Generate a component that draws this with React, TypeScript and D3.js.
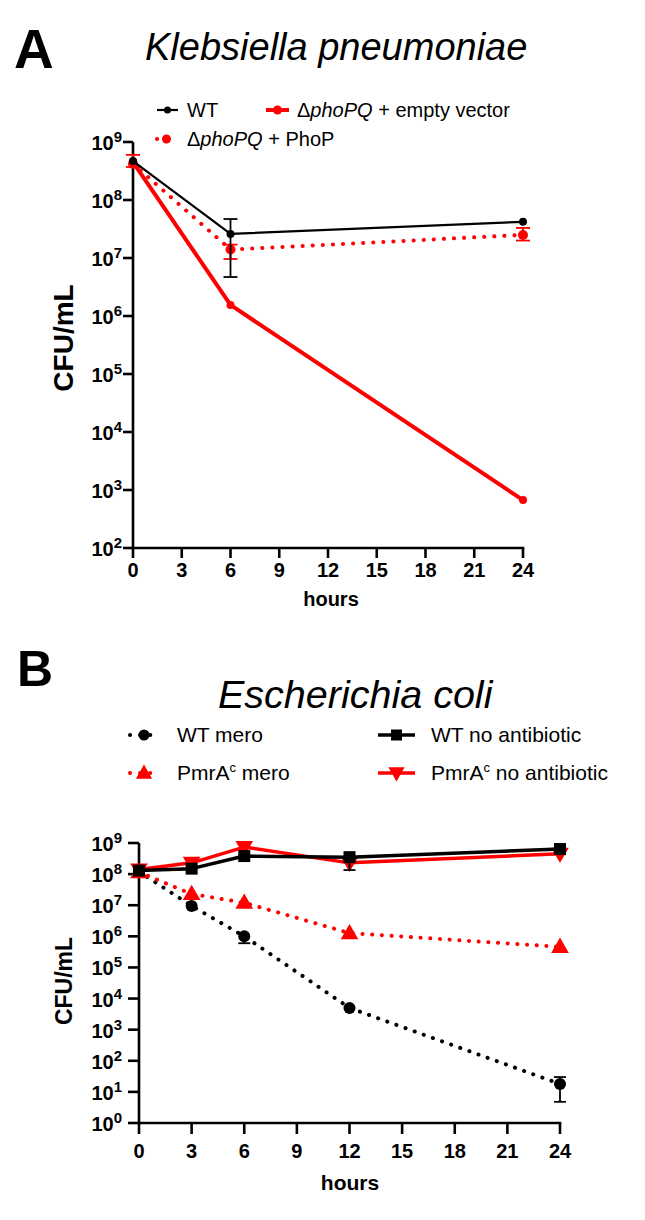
import React from "react";
import * as d3 from "d3";

const FONT = "'Liberation Sans', Arial, Helvetica, sans-serif";

// ---------- Panel A data (Klebsiella pneumoniae) ----------
const hoursA = [0, 6, 24];
const wtA = [4.7e8, 2.6e7, 4.2e7];
const wtALo = [4.7e8, 4.7e6, 4.2e7];
const wtAHi = [4.7e8, 4.7e7, 4.2e7];
const emptyA = [4.5e8, 1.55e6, 6.7e2];
const emptyALo = [3.7e8, 1.55e6, 6.7e2];
const emptyAHi = [6.0e8, 1.55e6, 6.7e2];
const phopA = [4.2e8, 1.4e7, 2.5e7];
const phopALo = [4.2e8, 9.6e6, 2.0e7];
const phopAHi = [4.2e8, 1.7e7, 3.3e7];
const xTicks = [0, 3, 6, 9, 12, 15, 18, 21, 24];
const yExpA = [2, 3, 4, 5, 6, 7, 8, 9];

// ---------- Panel B data (Escherichia coli) ----------
const hoursB = [0, 3, 6, 12, 24];
const wtMero = [1.2e8, 9.5e6, 1.0e6, 5.0e3, 18];
const wtMeroLo = [1.2e8, 9.5e6, 6.0e5, 5.0e3, 4.8];
const wtMeroHi = [1.2e8, 9.5e6, 1.0e6, 5.0e3, 30];
const pmrMero = [1.15e8, 2.3e7, 1.2e7, 1.27e6, 4.6e5];
const wtNo = [1.3e8, 1.5e8, 3.8e8, 3.5e8, 6.4e8];
const wtNoLo = [1.3e8, 1.5e8, 3.8e8, 1.35e8, 6.4e8];
const wtNoHi = [1.3e8, 1.5e8, 3.8e8, 3.5e8, 6.4e8];
const pmrNo = [1.4e8, 2.3e8, 7.4e8, 2.3e8, 4.5e8];
const pmrNoLo = [1.1e8, 2.3e8, 7.4e8, 2.3e8, 4.5e8];
const pmrNoHi = [1.4e8, 2.3e8, 7.4e8, 2.3e8, 4.5e8];
const yExpB = [0, 1, 2, 3, 4, 5, 6, 7, 8, 9];

const RED = "#ff0000";
const BLACK = "#000000";

type Pt = { t: number; v: number; lo: number; hi: number };
const zip = (t: number[], v: number[], lo?: number[], hi?: number[]): Pt[] =>
  t.map((tt, i) => ({ t: tt, v: v[i], lo: lo ? lo[i] : v[i], hi: hi ? hi[i] : v[i] }));

function PowLabel({ x, y, exp, size, sup }: { x: number; y: number; exp: number; size: number; sup: number }) {
  return (
    <text x={x} y={y + 8} textAnchor="end" fontWeight="bold" fontSize={size} fontFamily={FONT}>
      10
      <tspan dy={-8} fontSize={sup}>
        {exp}
      </tspan>
    </text>
  );
}

function Marker({ kind, x, y, size, color }: { kind: string; x: number; y: number; size: number; color: string }) {
  if (kind === "circle") return <circle cx={x} cy={y} r={size} fill={color} />;
  if (kind === "square")
    return <rect x={x - size} y={y - size} width={size * 2} height={size * 2} fill={color} />;
  const sym = d3.symbol().type(d3.symbolTriangle).size(size * size * 3.2)();
  return (
    <path
      d={sym as string}
      transform={`translate(${x},${y + (kind === "tri-down" ? -1 : 1)}) rotate(${kind === "tri-down" ? 180 : 0})`}
      fill={color}
    />
  );
}

function Series({
  data, x, y, color, width, dash, marker, msize, cap,
}: {
  data: Pt[]; x: d3.ScaleLinear<number, number>; y: d3.ScaleLogarithmic<number, number>;
  color: string; width: number; dash?: string; marker: string; msize: number; cap: number;
}) {
  const line = d3.line<Pt>().x((d) => x(d.t)).y((d) => y(d.v));
  return (
    <g>
      {data.map((d, i) =>
        d.lo !== d.hi || d.lo !== d.v ? (
          <g key={"e" + i} stroke={color} strokeWidth={1.8}>
            <line x1={x(d.t)} x2={x(d.t)} y1={y(d.lo)} y2={y(d.hi)} />
            {d.lo !== d.v && <line x1={x(d.t) - cap} x2={x(d.t) + cap} y1={y(d.lo)} y2={y(d.lo)} />}
            {d.hi !== d.v && <line x1={x(d.t) - cap} x2={x(d.t) + cap} y1={y(d.hi)} y2={y(d.hi)} />}
          </g>
        ) : null
      )}
      <path
        d={line(data) as string}
        fill="none"
        stroke={color}
        strokeWidth={width}
        strokeDasharray={dash}
        strokeLinecap={dash ? "round" : "butt"}
        strokeLinejoin="round"
      />
      {data.map((d, i) => (
        <Marker key={"m" + i} kind={marker} x={x(d.t)} y={y(d.v)} size={msize} color={color} />
      ))}
    </g>
  );
}

function LegendSym({
  x1, x2, y, color, width, dash, marker, msize,
}: { x1: number; x2: number; y: number; color: string; width: number; dash?: string; marker: string; msize: number }) {
  return (
    <g>
      <line x1={x1} x2={x2} y1={y} y2={y} stroke={color} strokeWidth={width} strokeDasharray={dash}
        strokeLinecap={dash ? "round" : "butt"} />
      <Marker kind={marker} x={(x1 + x2) / 2} y={y} size={msize} color={color} />
    </g>
  );
}

function Axes({
  x, y, exps, tickSize, labelGap, labelSize, supSize, xLabelY, hoursY, hoursX, hoursSize, aw,
}: {
  x: d3.ScaleLinear<number, number>; y: d3.ScaleLogarithmic<number, number>; exps: number[];
  tickSize: number; labelGap: number; labelSize: number; supSize: number; xLabelY: number;
  hoursY: number; hoursX: number; hoursSize: number; aw: number;
}) {
  const [x0, x1] = x.range();
  const [yb, yt] = y.range();
  return (
    <g>
      <line x1={x0} x2={x0} y1={yb + aw / 2} y2={yt} stroke={BLACK} strokeWidth={aw} />
      <line x1={x0 - aw / 2} x2={x1 + aw / 2} y1={yb} y2={yb} stroke={BLACK} strokeWidth={aw} />
      {exps.map((e) => (
        <g key={"y" + e}>
          <line x1={x0 - tickSize} x2={x0} y1={y(Math.pow(10, e))} y2={y(Math.pow(10, e))} stroke={BLACK} strokeWidth={aw} />
          <PowLabel x={x0 - labelGap} y={y(Math.pow(10, e))} exp={e} size={labelSize} sup={supSize} />
        </g>
      ))}
      {xTicks.map((t) => (
        <g key={"x" + t}>
          <line x1={x(t)} x2={x(t)} y1={yb} y2={yb + tickSize} stroke={BLACK} strokeWidth={aw} />
          <text x={x(t)} y={xLabelY} textAnchor="middle" fontWeight="bold" fontSize={labelSize} fontFamily={FONT}>
            {t}
          </text>
        </g>
      ))}
      <text x={hoursX} y={hoursY} textAnchor="middle" fontWeight="bold" fontSize={hoursSize} fontFamily={FONT}>
        hours
      </text>
    </g>
  );
}

export default function App() {
  // Panel A scales
  const xA = d3.scaleLinear().domain([0, 24]).range([133, 523]);
  const yA = d3.scaleLog().domain([1e2, 1e9]).range([548, 142]);
  // Panel B scales
  const xB = d3.scaleLinear().domain([0, 24]).range([139, 560]);
  const yB = d3.scaleLog().domain([1e0, 1e9]).range([1123, 843]);

  return (
    <div style={{ position: "absolute", left: 0, top: 0 }}>
      <svg width={645} height={1220} style={{ display: "block", background: "#fff" }} fontFamily={FONT}>
        {/* Panel A */}
        <text x={14} y={68} fontSize={55} fontWeight="bold">A</text>
        <text x={145} y={60} fontSize={38} fontStyle="italic">Klebsiella pneumoniae</text>

        <LegendSym x1={157} x2={178} y={110} color={BLACK} width={2.2} marker="circle" msize={3.5} />
        <text x={187} y={117} fontSize={20}>WT</text>
        <LegendSym x1={266} x2={289} y={110} color={RED} width={4} marker="circle" msize={4.5} />
        <text x={297} y={117} fontSize={20}>
          Δ<tspan fontStyle="italic">phoPQ</tspan> + empty vector
        </text>
        <LegendSym x1={157} x2={176} y={139} color={RED} width={4} dash="0.1 10" marker="circle" msize={4.5} />
        <text x={187} y={146} fontSize={20}>
          Δ<tspan fontStyle="italic">phoPQ</tspan> + PhoP
        </text>

        <Axes x={xA} y={yA} exps={yExpA} tickSize={10} labelGap={11} labelSize={20} supSize={15} xLabelY={577}
          hoursY={606} hoursX={331} hoursSize={20} aw={2.6} />
        <text transform="translate(73,338) rotate(-90)" textAnchor="middle" fontWeight="bold" fontSize={28}>
          CFU/mL
        </text>

        <Series data={zip(hoursA, emptyA, emptyALo, emptyAHi)} x={xA} y={yA} color={RED} width={4}
          marker="circle" msize={4} cap={7} />
        <Series data={zip(hoursA, phopA, phopALo, phopAHi)} x={xA} y={yA} color={RED} width={4}
          dash="0.1 10" marker="circle" msize={5} cap={7} />
        <Series data={zip(hoursA, wtA, wtALo, wtAHi)} x={xA} y={yA} color={BLACK} width={2.2}
          marker="circle" msize={4} cap={7} />

        {/* Panel B */}
        <text x={17} y={686} fontSize={50} fontWeight="bold">B</text>
        <text x={218} y={708} fontSize={39.5} fontStyle="italic">Escherichia coli</text>

        <LegendSym x1={130} x2={158} y={735} color={BLACK} width={4} dash="0.1 10" marker="circle" msize={5.5} />
        <text x={177} y={742} fontSize={21}>WT mero</text>
        <LegendSym x1={130} x2={158} y={773} color={RED} width={4} dash="0.1 10" marker="tri-up" msize={6} />
        <text x={177} y={780} fontSize={21}>
          PmrA<tspan dy={-8} fontSize={13}>c</tspan>
          <tspan dy={8}> mero</tspan>
        </text>
        <LegendSym x1={378} x2={415} y={735} color={BLACK} width={3.5} marker="square" msize={5.5} />
        <text x={431} y={742} fontSize={21}>WT no antibiotic</text>
        <LegendSym x1={378} x2={415} y={773} color={RED} width={3.5} marker="tri-down" msize={6} />
        <text x={431} y={780} fontSize={21}>
          PmrA<tspan dy={-8} fontSize={13}>c</tspan>
          <tspan dy={8}> no antibiotic</tspan>
        </text>

        <Axes x={xB} y={yB} exps={yExpB} tickSize={11} labelGap={17} labelSize={20} supSize={15} xLabelY={1158}
          hoursY={1190} hoursX={350} hoursSize={21} aw={2.6} />
        <text transform="translate(72,981) rotate(-90)" textAnchor="middle" fontWeight="bold" fontSize={23}>
          CFU/mL
        </text>

        <Series data={zip(hoursB, wtMero, wtMeroLo, wtMeroHi)} x={xB} y={yB} color={BLACK} width={4}
          dash="0.1 9.6" marker="circle" msize={6} cap={6} />
        <Series data={zip(hoursB, pmrMero)} x={xB} y={yB} color={RED} width={4}
          dash="0.1 9.6" marker="tri-up" msize={6.5} cap={6} />
        <Series data={zip(hoursB, pmrNo, pmrNoLo, pmrNoHi)} x={xB} y={yB} color={RED} width={3.5}
          marker="tri-down" msize={6.5} cap={6} />
        <Series data={zip(hoursB, wtNo, wtNoLo, wtNoHi)} x={xB} y={yB} color={BLACK} width={3.5}
          marker="square" msize={6} cap={6} />
      </svg>
    </div>
  );
}
